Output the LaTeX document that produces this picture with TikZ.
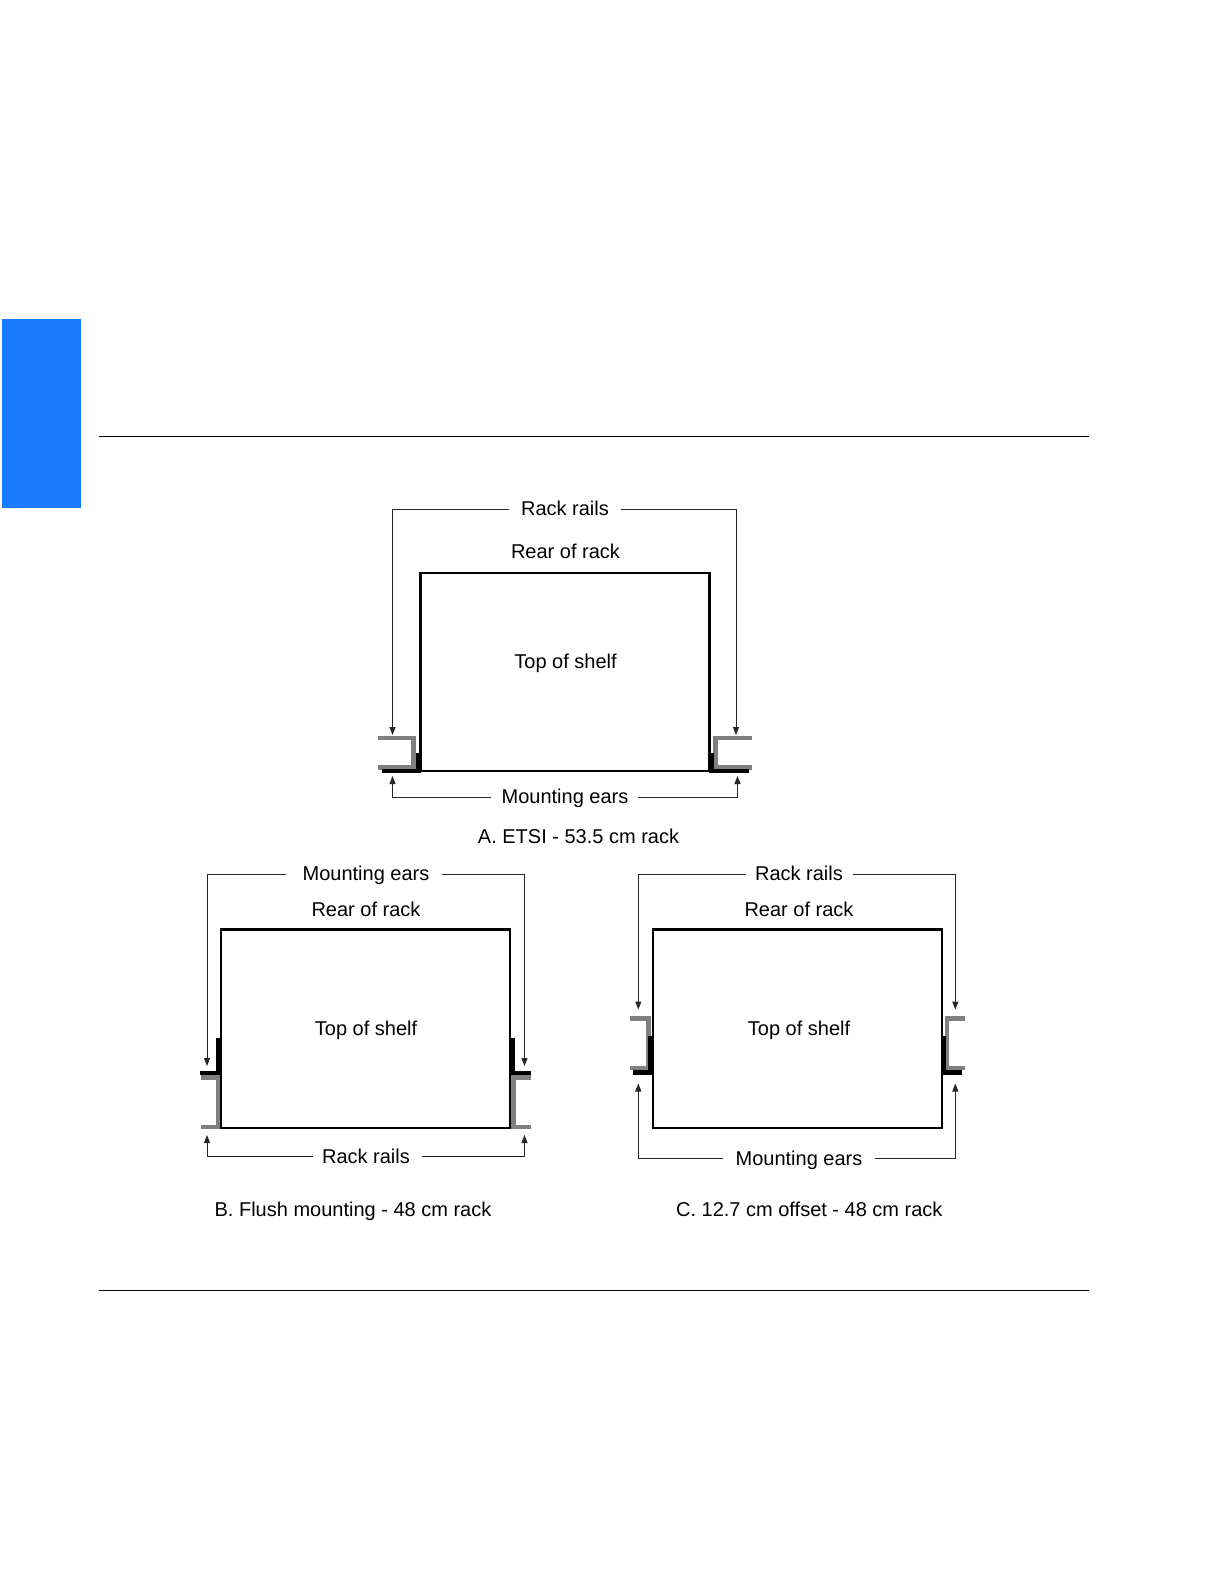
\documentclass[tikz,border=0pt]{standalone}
\usepackage{fontspec}
\setmainfont{Liberation Sans}
\usetikzlibrary{arrows.meta}
\definecolor{tabblue}{RGB}{26,122,255}
\definecolor{railgrey}{RGB}{128,128,128}
\tikzset{
  rule/.style={draw=black,line width=0.7pt},
  shelf/.style={draw=black,line width=1.05pt,outer sep=0pt,inner sep=0pt},
  lab/.style={font=\fontsize{10}{12}\selectfont,text height=7pt,text depth=1.5pt,inner xsep=6pt,inner ysep=0pt,outer sep=0pt},
  conn/.style={draw=black!85,line width=0.5pt,-{Triangle[length=4pt,width=3pt]}},
  rail/.style={draw=railgrey,line width=2.2pt,miter limit=10},
  ear/.style={draw=black,line width=2.1pt}
}
\begin{document}
\begin{tikzpicture}[x=0.5pt,y=-0.5pt]
\useasboundingbox (0,0) rectangle (1224,1584);
\fill[tabblue] (2,319) rectangle (81,508);
\coordinate (r1l) at (99,436.3); \coordinate (r1r) at (1089,436.3);
\coordinate (r2l) at (99,1290.3); \coordinate (r2r) at (1089,1290.3);
\draw[rule] (r1l) -- (r1r);
\draw[rule] (r2l) -- (r2r);

% A rails and ears
\draw[rail] (378,738) -- (413.5,738) -- (413.5,767.5) -- (378,767.5);
\draw[rail] (752,738) -- (715.5,738) -- (715.5,767.5) -- (752,767.5);
\draw[ear] (418.5,753) -- (418.5,771) -- (381.5,771);
\draw[ear] (711.5,753) -- (711.5,771) -- (749,771);
% B rails and ears
\draw[rail] (201,1077.5) -- (218.5,1077.5) -- (218.5,1127) -- (201,1127);
\draw[rail] (531,1077.5) -- (513.5,1077.5) -- (513.5,1127) -- (531,1127);
\draw[ear] (218.5,1037.5) -- (218.5,1073) -- (200,1073);
\draw[ear] (512.5,1037.5) -- (512.5,1073) -- (531,1073);
% C rails and ears
\draw[rail] (630,1018.5) -- (648.5,1018.5) -- (648.5,1068) -- (630,1068);
\draw[rail] (965,1018.5) -- (947,1018.5) -- (947,1068) -- (965,1068);
\draw[ear] (650.5,1036) -- (650.5,1072.5) -- (633,1072.5);
\draw[ear] (944,1036) -- (944,1072.5) -- (962,1072.5);

% shelves
\node[shelf,minimum width=144.5pt,minimum height=99pt] (shelfA) at (565,671.7) {};
\node[shelf,minimum width=144.5pt,minimum height=99.25pt] (shelfB) at (365.8,1028.7) {};
\node[shelf,minimum width=144.4pt,minimum height=99.25pt] (shelfC) at (797.3,1028.7) {};

% labels A
\node[lab] (railsA) at (565,509.5) {Rack rails};
\node[lab] (rearA) at (565.5,552.5) {Rear of rack};
\node[lab] (topA) at (565.5,662.5) {Top of shelf};
\node[lab] (earsA) at (565,797.5) {Mounting ears};
\node[lab] (capA) at (578.5,837.5) {A. ETSI - 53.5 cm rack};
% labels B
\node[lab] (earsB) at (366,874.5) {Mounting ears};
\node[lab] (rearB) at (366,910.5) {Rear of rack};
\node[lab] (topB) at (366,1029.5) {Top of shelf};
\node[lab,text height=8pt] (railsB) at (366,1156.5) {Rack rails};
\node[lab] (capB) at (353,1210.5) {B. Flush mounting - 48 cm rack};
% labels C
\node[lab] (railsC) at (799,874.5) {Rack rails};
\node[lab] (rearC) at (799,910.5) {Rear of rack};
\node[lab] (topC) at (799,1029.5) {Top of shelf};
\node[lab,text height=8.5pt] (earsC) at (799,1158) {Mounting ears};
\node[lab] (capC) at (809.3,1210.5) {C. 12.7 cm offset - 48 cm rack};

% arrow targets
\coordinate (A1) at (392.5,735); \coordinate (A2) at (736,735);
\coordinate (A3) at (392.5,776); \coordinate (A4) at (737.5,776);
\coordinate (B1) at (207,1066); \coordinate (B2) at (524.5,1066);
\coordinate (B3) at (207,1135); \coordinate (B4) at (524.5,1135);
\coordinate (C1) at (638.3,1009.5); \coordinate (C2) at (955.3,1009.5);
\coordinate (C3) at (638.3,1083.5); \coordinate (C4) at (955.3,1083.5);

\draw[conn] (railsA.west) -| (A1);
\draw[conn] (railsA.east) -| (A2);
\draw[conn] ([xshift=0.5pt]earsA.west) -| (A3);
\draw[conn] ([xshift=-1pt]earsA.east) -| (A4);
\draw[conn] ([xshift=-2.5pt]earsB.west) -| (B1);
\draw[conn] ([xshift=0.5pt]earsB.east) -| (B2);
\draw[conn] ([xshift=1.5pt]railsB.west) -| (B3);
\draw[conn] (railsB.east) -| (B4);
\draw[conn] ([xshift=1.5pt]railsC.west) -| (C1);
\draw[conn] ([xshift=-1pt]railsC.east) -| (C2);
\draw[conn] ([xshift=-0.5pt]earsC.west) -| (C3);
\draw[conn] ([xshift=0.5pt]earsC.east) -| (C4);
\end{tikzpicture}
\end{document}
